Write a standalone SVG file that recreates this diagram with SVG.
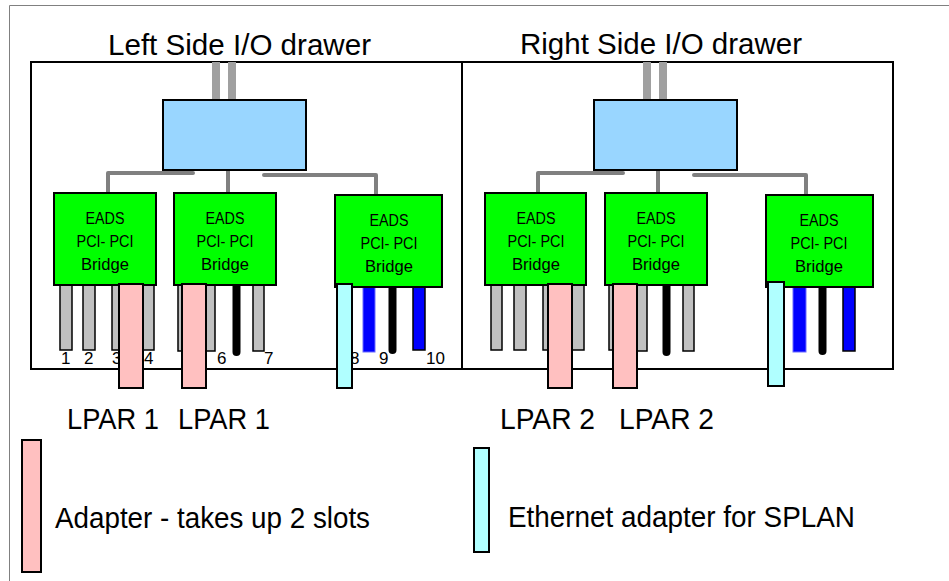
<svg xmlns="http://www.w3.org/2000/svg" width="949" height="581" viewBox="0 0 949 581">
  <style>
    text { font-family: "Liberation Sans", Arial, sans-serif; fill: #000; }
    .title { font-size: 30px; }
    .br { font-size: 16px; text-anchor: middle; }
    .brb { font-size: 17px; text-anchor: middle; }
    .num { font-size: 17px; }
    .big { font-size: 29px; }
    .drawer { fill: #fff; stroke: #000; stroke-width: 2; }
    .hub { fill: #99d6ff; stroke: #000; stroke-width: 2; }
    .bridge { fill: #00ff00; stroke: #000; stroke-width: 2; }
    .slot { fill: #c0c0c0; stroke: #000; stroke-width: 1.5; }
    .bslot { fill: #0000ff; stroke: #000; stroke-width: 1.5; }
    .bslot2 { fill: #0000ff; stroke: #6a6aff; stroke-width: 1; }
    .cable { stroke: #000; stroke-width: 8; stroke-linecap: round; fill: none; }
    .pink { fill: #ffc0c0; stroke: #000; stroke-width: 2; }
    .cyan { fill: #b0ffff; stroke: #000; stroke-width: 2; }
    .feed { stroke: #a0a0a0; stroke-width: 8; fill: none; }
    .link { stroke: #808080; stroke-width: 4; fill: none; stroke-linecap: round; stroke-linejoin: round; }
  </style>

  <!-- outer frame -->
  <path d="M9.5 581 V5.5 H949" fill="none" stroke="#808080" stroke-width="1"/>

  <!-- drawer titles -->
  <text class="title" x="108" y="55" textLength="263" lengthAdjust="spacingAndGlyphs">Left Side I/O drawer</text>
  <text class="title" x="520" y="54" textLength="282" lengthAdjust="spacingAndGlyphs">Right Side I/O drawer</text>

  <!-- drawer enclosures -->
  <g id="left-drawer"><rect class="drawer" x="31" y="62" width="431" height="307"/></g>
  <g id="right-drawer"><rect class="drawer" x="462" y="62" width="431" height="307"/></g>

  <!-- feed cables into the hubs -->
  <g id="feeds">
    <path class="feed" d="M216 62 V100"/>
    <circle cx="216" cy="100" r="4" fill="#a0a0a0"/>
    <path class="feed" d="M232 62 V100"/>
    <path class="feed" d="M647 62 V100"/>
    <circle cx="647" cy="100" r="4" fill="#a0a0a0"/>
    <path class="feed" d="M663 62 V100"/>
  </g>

  <!-- hub to bridge connectors -->
  <g id="connectors">
    <path class="link" d="M193 173 H108 V193"/>
    <path class="link" d="M228 170 V193"/>
    <path class="link" d="M264 175 H376 V195"/>
    <path class="link" d="M623 173 H538 V193"/>
    <path class="link" d="M658 170 V193"/>
    <path class="link" d="M694 175 H806 V195"/>
  </g>

  <g id="hub-left"><rect class="hub" x="163" y="100" width="143" height="70"/></g>
  <g id="hub-right"><rect class="hub" x="594" y="100" width="143" height="70"/></g>

  <!-- slots, left drawer -->
  <g id="slots-left">
    <rect class="slot" x="60" y="285" width="12" height="65"/>
    <rect class="slot" x="83" y="285" width="12" height="65"/>
    <rect class="slot" x="112" y="285" width="11" height="65"/>
    <rect class="slot" x="143" y="285" width="11" height="65"/>
    <rect class="slot" x="178" y="285" width="12" height="66"/>
    <rect class="slot" x="203" y="285" width="12" height="66"/>
    <path class="cable" d="M236.5 286 V352"/>
    <rect class="slot" x="253" y="285" width="11" height="66"/>
    <rect class="bslot2" x="363" y="287" width="12" height="65"/>
    <path class="cable" d="M392.5 287 V350"/>
    <rect class="bslot" x="413" y="287" width="12" height="63"/>
  </g>

  <!-- slot numbers -->
  <g id="slot-numbers">
    <text class="num" x="61" y="364">1</text>
    <text class="num" x="84" y="364">2</text>
    <text class="num" x="112" y="364">3</text>
    <text class="num" x="144" y="364">4</text>
    <text class="num" x="217" y="364">6</text>
    <text class="num" x="264" y="364">7</text>
    <text class="num" x="350" y="364">8</text>
    <text class="num" x="379" y="364">9</text>
    <text class="num" x="426" y="364">10</text>
  </g>

  <!-- slots, right drawer -->
  <g id="slots-right">
    <rect class="slot" x="491" y="285" width="11" height="65"/>
    <rect class="slot" x="514" y="285" width="12" height="65"/>
    <rect class="slot" x="543" y="285" width="11" height="65"/>
    <rect class="slot" x="572" y="285" width="12" height="65"/>
    <rect class="slot" x="609" y="285" width="11" height="65"/>
    <rect class="slot" x="635" y="285" width="12" height="66"/>
    <path class="cable" d="M666.5 286 V352"/>
    <rect class="slot" x="683" y="285" width="11" height="66"/>
    <rect class="bslot2" x="793" y="287" width="13" height="65"/>
    <path class="cable" d="M822.5 287 V351"/>
    <rect class="bslot" x="843" y="287" width="12" height="64"/>
  </g>

  <!-- bridges -->
  <g id="bridge-1">
    <rect class="bridge" x="54" y="193" width="102" height="92"/>
    <text class="br" x="105" y="224" textLength="39" lengthAdjust="spacingAndGlyphs">EADS</text>
    <text class="br" x="105" y="247" textLength="57" lengthAdjust="spacingAndGlyphs">PCI- PCI</text>
    <text class="brb" x="105" y="270" textLength="48" lengthAdjust="spacingAndGlyphs">Bridge</text>
  </g>
  <g id="bridge-2">
    <rect class="bridge" x="174" y="193" width="102" height="92"/>
    <text class="br" x="225" y="224" textLength="39" lengthAdjust="spacingAndGlyphs">EADS</text>
    <text class="br" x="225" y="247" textLength="57" lengthAdjust="spacingAndGlyphs">PCI- PCI</text>
    <text class="brb" x="225" y="270" textLength="48" lengthAdjust="spacingAndGlyphs">Bridge</text>
  </g>
  <g id="bridge-3">
    <rect class="bridge" x="335" y="195" width="107" height="92"/>
    <text class="br" x="389" y="226" textLength="39" lengthAdjust="spacingAndGlyphs">EADS</text>
    <text class="br" x="389" y="249" textLength="57" lengthAdjust="spacingAndGlyphs">PCI- PCI</text>
    <text class="brb" x="389" y="272" textLength="48" lengthAdjust="spacingAndGlyphs">Bridge</text>
  </g>
  <g id="bridge-4">
    <rect class="bridge" x="485" y="193" width="101" height="92"/>
    <text class="br" x="536" y="224" textLength="39" lengthAdjust="spacingAndGlyphs">EADS</text>
    <text class="br" x="536" y="247" textLength="57" lengthAdjust="spacingAndGlyphs">PCI- PCI</text>
    <text class="brb" x="536" y="270" textLength="48" lengthAdjust="spacingAndGlyphs">Bridge</text>
  </g>
  <g id="bridge-5">
    <rect class="bridge" x="605" y="193" width="102" height="92"/>
    <text class="br" x="656" y="224" textLength="39" lengthAdjust="spacingAndGlyphs">EADS</text>
    <text class="br" x="656" y="247" textLength="57" lengthAdjust="spacingAndGlyphs">PCI- PCI</text>
    <text class="brb" x="656" y="270" textLength="48" lengthAdjust="spacingAndGlyphs">Bridge</text>
  </g>
  <g id="bridge-6">
    <rect class="bridge" x="766" y="195" width="107" height="92"/>
    <text class="br" x="819" y="226" textLength="39" lengthAdjust="spacingAndGlyphs">EADS</text>
    <text class="br" x="819" y="249" textLength="57" lengthAdjust="spacingAndGlyphs">PCI- PCI</text>
    <text class="brb" x="819" y="272" textLength="48" lengthAdjust="spacingAndGlyphs">Bridge</text>
  </g>

  <!-- adapters plugged into slots -->
  <g id="adapters">
    <rect class="pink" x="119" y="284" width="24" height="104"/>
    <rect class="pink" x="182" y="284" width="24" height="104"/>
    <rect class="cyan" x="337" y="284" width="15" height="104"/>
    <rect class="pink" x="548" y="284" width="24" height="104"/>
    <rect class="pink" x="613" y="284" width="24" height="104"/>
    <rect class="cyan" x="768" y="282" width="16" height="104"/>
  </g>

  <!-- partition labels -->
  <g id="lpar-labels">
    <text class="big" x="67" y="429" textLength="92" lengthAdjust="spacingAndGlyphs">LPAR 1</text>
    <text class="big" x="178" y="429" textLength="92" lengthAdjust="spacingAndGlyphs">LPAR 1</text>
    <text class="big" x="500" y="429" textLength="95" lengthAdjust="spacingAndGlyphs">LPAR 2</text>
    <text class="big" x="619" y="429" textLength="95" lengthAdjust="spacingAndGlyphs">LPAR 2</text>
  </g>

  <!-- legend -->
  <g id="legend-adapter">
    <rect class="pink" x="22" y="440" width="19" height="132"/>
    <text class="big" x="55" y="528" textLength="315" lengthAdjust="spacingAndGlyphs">Adapter - takes up 2 slots</text>
  </g>
  <g id="legend-ethernet">
    <rect class="cyan" x="474" y="448" width="15" height="104"/>
    <text class="big" x="508" y="527" textLength="347" lengthAdjust="spacingAndGlyphs">Ethernet adapter for SPLAN</text>
  </g>
</svg>
